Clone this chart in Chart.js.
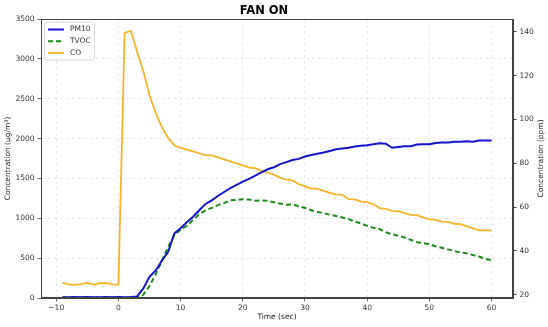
<!DOCTYPE html>
<html>
<head>
<meta charset="utf-8">
<script src="https://cdn.jsdelivr.net/npm/chart.js@4"></script>
<style>
  html, body { margin: 0; padding: 0; background: #fff; }
  canvas { display: block; }
</style>
</head>
<body>
<canvas id="fanChart" width="548" height="327"></canvas>
<script>
// time in seconds
const time = [-9, -8, -7, -6, -5, -4, -3, -2, -1, 0,
  1, 2, 3, 4, 5, 6, 7, 8, 9, 10,
  11, 12, 13, 14, 15, 16, 17, 18, 19, 20,
  21, 22, 23, 24, 25, 26, 27, 28, 29, 30,
  31, 32, 33, 34, 35, 36, 37, 38, 39, 40,
  41, 42, 43, 44, 45, 46, 47, 48, 49, 50,
  51, 52, 53, 54, 55, 56, 57, 58, 59, 60];

// PM10 (µg/m³), left axis
const pm10 = [10, 10, 12, 10, 11, 10, 10, 12, 10, 11,
  10, 12, 20, 120, 265, 345, 470, 580, 810, 875,
  950, 1020, 1100, 1180, 1225, 1280, 1330, 1380, 1420, 1460,
  1495, 1535, 1575, 1615, 1640, 1680, 1705, 1730, 1745, 1775,
  1795, 1810, 1825, 1845, 1865, 1875, 1885, 1900, 1910, 1915,
  1930, 1940, 1935, 1885, 1895, 1905, 1905, 1925, 1930, 1930,
  1945, 1950, 1950, 1960, 1960, 1965, 1960, 1975, 1975, 1975];

// TVOC, left axis
const tvoc = [5, 5, 5, 5, 5, 5, 5, 5, 5, 5,
  5, 5, 5, 40, 150, 300, 470, 640, 790, 860,
  905, 980, 1050, 1100, 1130, 1165, 1190, 1225, 1230, 1240,
  1235, 1220, 1225, 1220, 1200, 1185, 1170, 1175, 1150, 1130,
  1100, 1080, 1065, 1045, 1030, 1010, 990, 960, 935, 905,
  880, 865, 825, 800, 780, 760, 730, 700, 690, 675,
  650, 630, 610, 590, 570, 560, 540, 520, 490, 475];

// CO (ppm), right axis
const co = [25.4, 24.7, 24.5, 24.8, 25.4, 24.6, 25.3, 25.3, 24.7, 24.6,
  139.6, 140.5, 131, 122, 111, 103, 96.5, 91.5, 88.2, 87,
  86.3, 85.5, 84.6, 83.7, 83.6, 82.7, 81.8, 80.9, 80, 79.1,
  78, 77.8, 76.5, 75.8, 74.8, 73.5, 72.6, 72.2, 70.5, 69.5,
  68.5, 68.3, 67.4, 66.5, 65.8, 65.6, 63.6, 63.5, 62.5, 62.3,
  61.3, 59.5, 59.2, 58.3, 58.2, 57.3, 56.5, 56.3, 55.3, 54.4,
  54.2, 53.4, 53.3, 52.4, 52.2, 51.3, 50.3, 49.4, 49.4, 49.4];

const xTicks = [-10, 0, 10, 20, 30, 40, 50, 60];
const leftTicks = [0, 500, 1000, 1500, 2000, 2500, 3000, 3500];
const rightTicks = [20, 40, 60, 80, 100, 120, 140];

const FONT = "'DejaVu Sans', sans-serif";
const tickFont = { family: FONT, size: 7.5 };
const gridStyle = { color: 'rgba(150,150,150,0.25)', tickColor: '#444', tickLength: 3.5, lineWidth: 0.8 };

function pts(arr) {
  return time.map((t, i) => ({ x: t, y: arr[i] }));
}

function setTicks(list) {
  return function(scale) {
    scale.ticks = list.map(v => ({ value: v }));
  };
}

// pas de séparateur de milliers, vrai signe moins
const plainLabel = v => String(v).replace('-', '\u2212');

// titre + cadre + légende + titre de l'axe droit
const extras = {
  id: 'extras',
  afterDraw(chart) {
    const ctx = chart.ctx;
    const a = chart.chartArea;
    ctx.save();
    // cadre
    ctx.strokeStyle = '#444';
    ctx.lineWidth = 1;
    ctx.strokeRect(a.left + 0.5, a.top + 0.5, a.right - a.left - 1, a.bottom - a.top - 1);

    // titre
    ctx.fillStyle = '#000';
    ctx.font = "bold 11.5px " + FONT;
    ctx.textAlign = 'center';
    ctx.textBaseline = 'middle';
    ctx.fillText('FAN ON', 264, 11);

    // axe droit, texte vers le haut
    ctx.save();
    ctx.translate(541, (a.top + a.bottom) / 2);
    ctx.rotate(-Math.PI / 2);
    ctx.font = "7.5px " + FONT;
    ctx.fillStyle = '#222';
    ctx.fillText('Concentration (ppm)', 0, 0);
    ctx.restore();

    // légende
    const bx = 44.5, by = 22, bw = 50, bh = 38;
    ctx.fillStyle = 'rgba(255,255,255,0.85)';
    ctx.strokeStyle = '#d0d0d0';
    ctx.lineWidth = 0.8;
    ctx.beginPath();
    ctx.roundRect(bx, by, bw, bh, 2);
    ctx.fill();
    ctx.stroke();

    const items = chart.data.datasets;
    ctx.font = "7.5px " + FONT;
    ctx.textAlign = 'left';
    items.forEach((ds, i) => {
      const y = 29.5 + i * 11.7;
      ctx.strokeStyle = ds.borderColor;
      ctx.lineWidth = 2;
      ctx.setLineDash(ds.borderDash || []);
      ctx.beginPath();
      ctx.moveTo(48, y);
      ctx.lineTo(64, y);
      ctx.stroke();
      ctx.setLineDash([]);
      ctx.fillStyle = '#333';
      ctx.fillText(ds.label, 70, y);
    });
    ctx.restore();
  }
};

const fanChart = new Chart(document.getElementById('fanChart'), {
  type: 'line',
  data: {
    datasets: [
      {
        label: 'PM10',
        data: pts(pm10),
        borderColor: '#1414cc',
        borderWidth: 2,
        yAxisID: 'y'
      },
      {
        label: 'TVOC',
        data: pts(tvoc),
        borderColor: '#1d8a1d',
        borderWidth: 2,
        borderDash: [5, 3],
        yAxisID: 'y'
      },
      {
        label: 'CO',
        data: pts(co),
        borderColor: '#f8b32a',
        borderWidth: 1.8,
        yAxisID: 'y1'
      }
    ]
  },
  options: {
    responsive: false,
    animation: false,
    devicePixelRatio: 1,
    layout: { padding: { top: 19, left: 0, right: 0, bottom: 0 } },
    elements: {
      point: { radius: 0 },
      line: { tension: 0, fill: false }
    },
    plugins: {
      legend: { display: false },
      title: { display: false },
      tooltip: { enabled: false }
    },
    scales: {
      x: {
        type: 'linear',
        min: -12.45,
        max: 63.45,
        afterBuildTicks: setTicks(xTicks),
        afterFit: s => { s.height = 29; },
        grid: gridStyle,
        border: { display: true, color: '#444', dash: [3, 3] },
        ticks: { font: tickFont, color: '#333', padding: 2, maxRotation: 0, callback: plainLabel },
        title: { display: true, text: 'Time (sec)', font: tickFont, color: '#222', padding: { top: 0, bottom: 5 } }
      },
      y: {
        type: 'linear',
        position: 'left',
        min: 0,
        max: 3500,
        afterBuildTicks: setTicks(leftTicks),
        afterFit: s => { s.width = 41; },
        grid: gridStyle,
        border: { display: true, color: '#444', dash: [3, 3] },
        ticks: { font: tickFont, color: '#333', padding: 3, callback: plainLabel },
        title: { display: true, text: 'Concentration (µg/m³)', font: tickFont, color: '#222', padding: { top: 3.5, bottom: 0 } }
      },
      y1: {
        type: 'linear',
        position: 'right',
        min: 18.5,
        max: 145.9,
        afterBuildTicks: setTicks(rightTicks),
        afterFit: s => { s.width = 35; },
        grid: { drawOnChartArea: false, tickColor: '#444', tickLength: 3.5 },
        border: { display: true, color: '#444' },
        ticks: { font: tickFont, color: '#333', padding: 3, callback: plainLabel },
        title: { display: false }
      }
    }
  },
  plugins: [extras]
});
</script>
</body>
</html>
